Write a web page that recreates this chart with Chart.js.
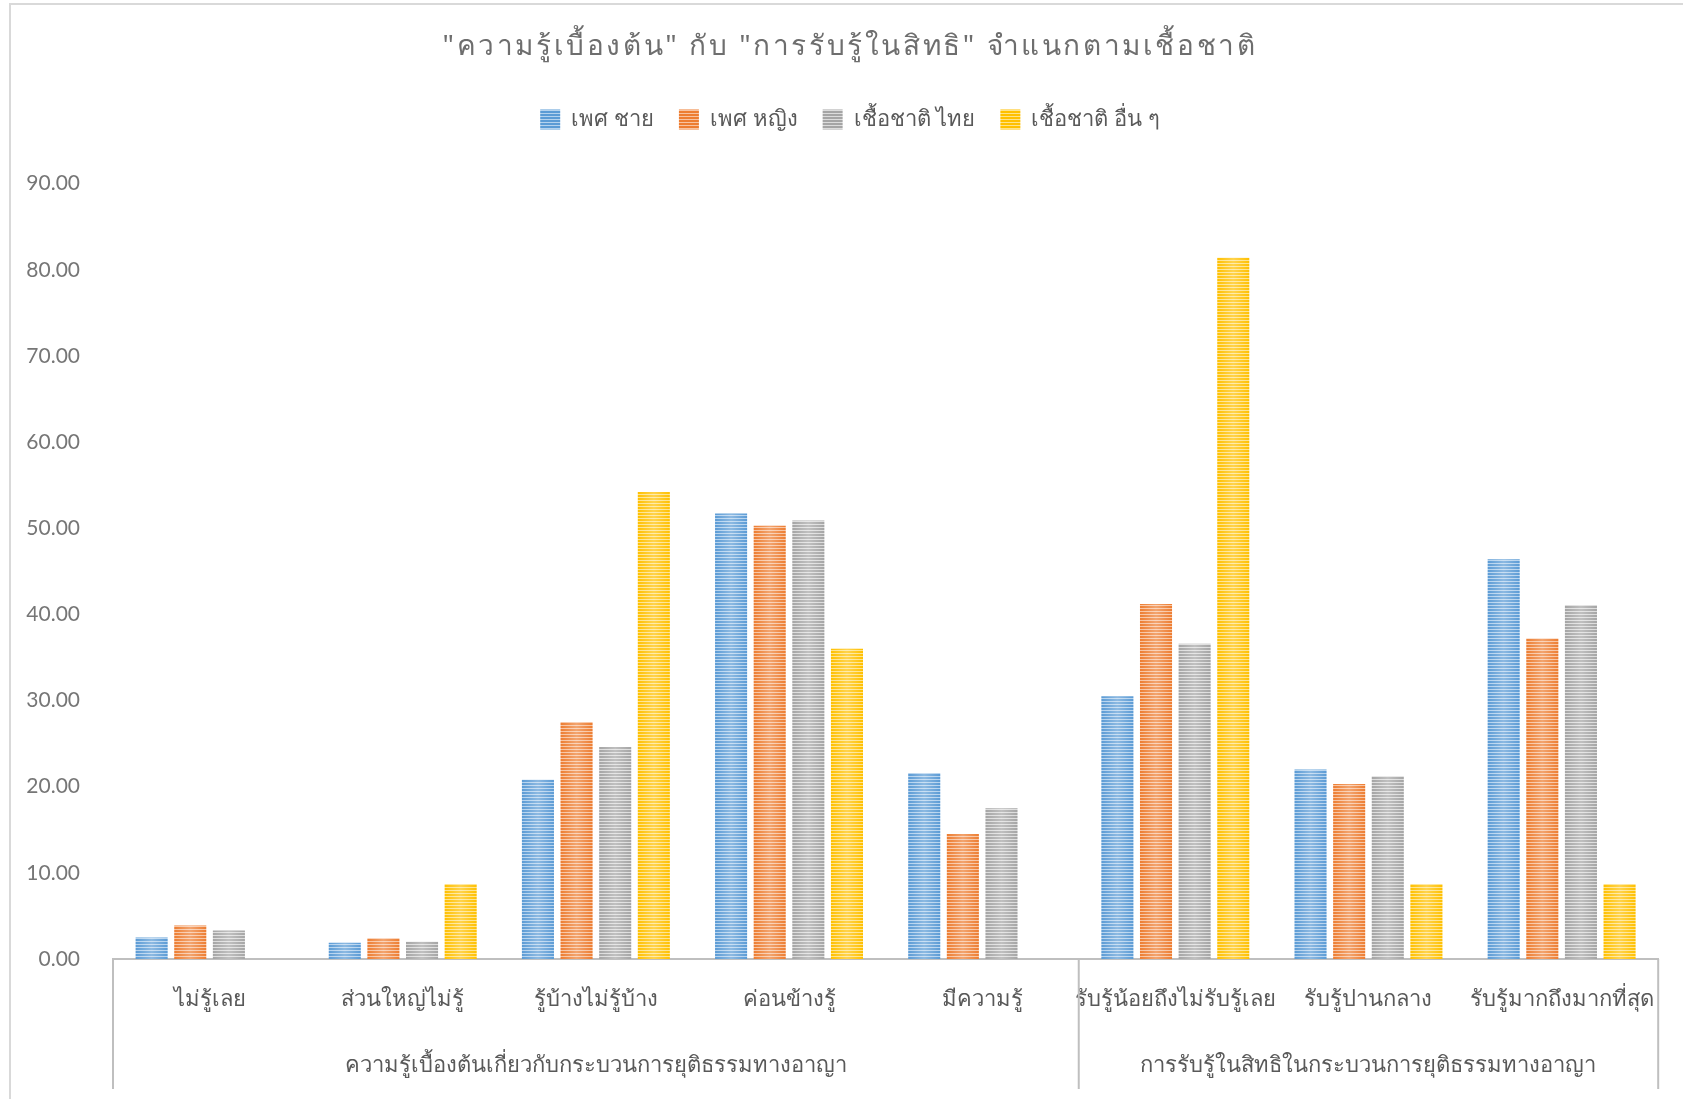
<!DOCTYPE html>
<html>
<head>
<meta charset="utf-8">
<script src="https://cdn.jsdelivr.net/npm/chart.js@4"></script>
<style>
    html, body { margin: 0; padding: 0; background: #fff; overflow: hidden; }
    #wrap { position: absolute; left: 0; top: 0; width: 1683px; height: 1099px; }
    #frame { position: absolute; left: 9px; top: 3px; width: 1720px; height: 1140px; border: 2px solid #d9d9d9; pointer-events: none; }
</style>
</head>
<body>
<div id="wrap"><canvas id="raceChart"></canvas></div>
<div id="frame"></div>
<script>
const categories = ["ไม่รู้เลย", "ส่วนใหญ่ไม่รู้", "รู้บ้างไม่รู้บ้าง", "ค่อนข้างรู้", "มีความรู้",
    "รับรู้น้อยถึงไม่รับรู้เลย", "รับรู้ปานกลาง", "รับรู้มากถึงมากที่สุด"];
const groups = [
    { label: "ความรู้เบื้องต้นเกี่ยวกับกระบวนการยุติธรรมทางอาญา", from: 0, to: 4 },
    { label: "การรับรู้ในสิทธิในกระบวนการยุติธรรมทางอาญา", from: 5, to: 7 }
];
const seriesNames = ["เพศ ชาย", "เพศ หญิง", "เชื้อชาติ ไทย", "เชื้อชาติ อื่น ๆ"];
const maleValues = [2.5, 1.9, 20.8, 51.7, 21.6, 30.5, 22.0, 46.4];
const femaleValues = [3.9, 2.4, 27.5, 50.3, 14.5, 41.2, 20.3, 37.2];
const thaiValues = [3.3, 2.0, 24.6, 50.9, 17.5, 36.6, 21.2, 41.1];
const otherValues = [0, 8.7, 54.2, 36.0, 0, 81.4, 8.7, 8.7];
const yTicks = [0, 10, 20, 30, 40, 50, 60, 70, 80, 90];

const TEXT = "#595959";
const THAI_FONT = "'Noto Sans', 'DejaVu Sans', sans-serif";

// horizontal stripe fill like the Office "narrow horizontal" texture
function stripes(base, light) {
    const c = document.createElement("canvas");
    c.width = 4;
    c.height = 3;
    const g = c.getContext("2d");
    g.fillStyle = base;
    g.fillRect(0, 0, 4, 3);
    g.fillStyle = light;
    g.fillRect(0, 2, 4, 1);
    return g.createPattern(c, "repeat");
}

const fills = [
    stripes("#5b9bd5", "#b4d2ee"),
    stripes("#ed7d31", "#f8c3a0"),
    stripes("#a5a5a5", "#dcdcdc"),
    stripes("#ffc000", "#ffe38a")
];

// light sheen across the middle of every bar
const barSheen = {
    id: "barSheen",
    afterDatasetsDraw(chart) {
        const ctx = chart.ctx;
        chart.data.datasets.forEach((ds, i) => {
            chart.getDatasetMeta(i).data.forEach(bar => {
                const { x, y, base, width } = bar.getProps(["x", "y", "base", "width"], true);
                if (Math.abs(base - y) < 1) return;
                const g = ctx.createLinearGradient(x - width / 2, 0, x + width / 2, 0);
                g.addColorStop(0, "rgba(255,255,255,0)");
                g.addColorStop(0.5, "rgba(255,255,255,0.3)");
                g.addColorStop(1, "rgba(255,255,255,0)");
                ctx.save();
                ctx.fillStyle = g;
                ctx.fillRect(x - width / 2, y, width, base - y);
                ctx.restore();
            });
        });
    }
};

// second row of the category axis: group names and divider lines
const groupAxis = {
    id: "groupAxis",
    afterDraw(chart) {
        const ctx = chart.ctx;
        const xs = chart.scales.x;
        const top = chart.chartArea.bottom;
        const bottom = top + 130;
        const edge = i => {
            if (i < 0) return xs.left;
            if (i >= categories.length - 1) return xs.right;
            return (xs.getPixelForValue(i) + xs.getPixelForValue(i + 1)) / 2;
        };
        ctx.save();
        ctx.strokeStyle = "#bfbfbf";
        ctx.lineWidth = 2;
        const cuts = [edge(-1)].concat(groups.map(gr => edge(gr.to)));
        cuts.forEach(px => {
            ctx.beginPath();
            ctx.moveTo(px, top);
            ctx.lineTo(px, bottom);
            ctx.stroke();
        });
        ctx.fillStyle = TEXT;
        ctx.font = "22px " + THAI_FONT;
        ctx.textAlign = "center";
        ctx.textBaseline = "middle";
        groups.forEach(gr => {
            const mid = (edge(gr.from - 1) + edge(gr.to)) / 2;
            ctx.fillText(gr.label, mid, top + 107);
        });
        ctx.restore();
    }
};

const raceCtx = document.getElementById("raceChart");
const chart = new Chart(raceCtx, {
    type: "bar",
    data: {
        labels: categories,
        datasets: [maleValues, femaleValues, thaiValues, otherValues].map((vals, i) => ({
            label: seriesNames[i],
            data: vals,
            backgroundColor: fills[i],
            borderWidth: 0
        }))
    },
    options: {
        responsive: true,
        maintainAspectRatio: false,
        animation: false,
        datasets: {
            bar: { categoryPercentage: 0.8, barPercentage: 0.83 }
        },
        layout: { padding: { left: 17, right: 0, top: 0, bottom: 0 } },
        plugins: {
            title: {
                display: true,
                text: "\"ความรู้เบื้องต้น\" กับ \"การรับรู้ในสิทธิ\" จำแนกตามเชื้อชาติ",
                color: "#6e6e6e",
                font: { family: THAI_FONT, size: 28, weight: "normal", lineHeight: 1.2 },
                padding: { top: 30, bottom: 20 }
            },
            legend: {
                position: "top",
                labels: {
                    color: TEXT,
                    font: { family: THAI_FONT, size: 22 },
                    boxWidth: 20,
                    boxHeight: 20,
                    padding: 25
                }
            },
            tooltip: { enabled: false }
        },
        scales: {
            x: {
                grid: { display: false, drawTicks: false },
                border: { display: true, color: "#bfbfbf", width: 2 },
                ticks: {
                    color: TEXT,
                    font: { family: THAI_FONT, size: 22 },
                    padding: 28,
                    maxRotation: 0,
                    autoSkip: false
                },
                afterFit(scale) { scale.height = 140; }
            },
            y: {
                min: 0,
                max: 95,
                grid: { display: false, drawTicks: false },
                border: { display: false },
                afterBuildTicks(scale) { scale.ticks = yTicks.map(v => ({ value: v })); },
                ticks: {
                    color: "#767676",
                    font: { family: "Lato, sans-serif", size: 21 },
                    padding: 33,
                    callback: v => v.toFixed(2)
                },
                afterFit(scale) { scale.width = 96; }
            },
            side: {
                position: "right",
                grid: { display: false, drawTicks: false },
                border: { display: false },
                ticks: { display: false },
                afterFit(scale) { scale.width = 22; }
            }
        }
    },
    plugins: [barSheen, groupAxis]
});

// spaced-out lettering for the title only
const titleDraw = chart.titleBlock.draw.bind(chart.titleBlock);
chart.titleBlock.draw = function (area) {
    chart.ctx.save();
    chart.ctx.letterSpacing = "2.6px";
    titleDraw(area);
    chart.ctx.restore();
};
chart.draw();
</script>
</body>
</html>
